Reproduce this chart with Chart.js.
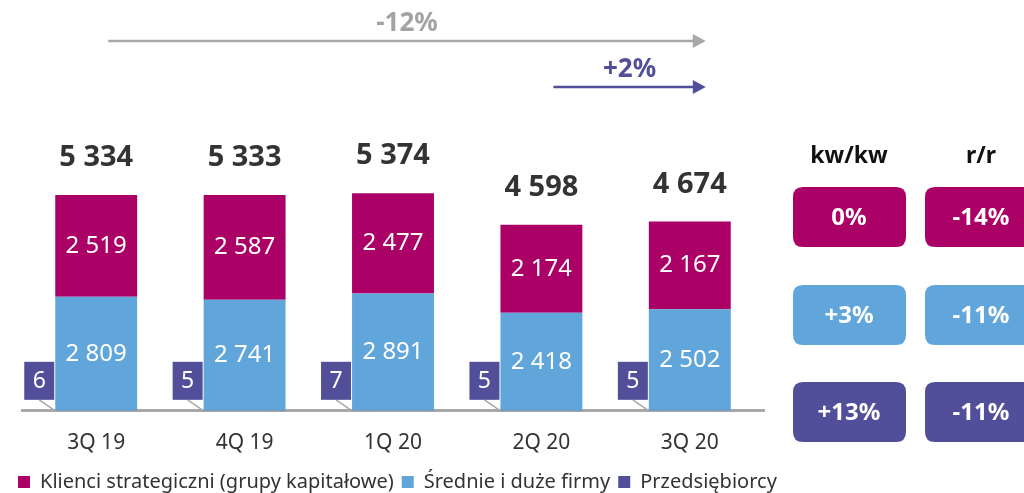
<!DOCTYPE html>
<html>
  <head>
    <meta charset="utf-8" />
    <title>Kredyty klientów korporacyjnych</title>
    <script src="https://cdn.jsdelivr.net/npm/chart.js@4.4.1/dist/chart.umd.min.js"></script>
    <style>
      html, body { margin: 0; padding: 0; background: #fff; }
      #wrap { width: 1024px; height: 493px; }
    </style>
  </head>
  <body>
    <div id="wrap"><canvas id="myChart"></canvas></div>
    <script>
      const categories = ["3Q 19", "4Q 19", "1Q 20", "2Q 20", "3Q 20"];
      const strategic = [2519, 2587, 2477, 2174, 2167];
      const midLarge = [2809, 2741, 2891, 2418, 2502];
      const entrepreneurs = [6, 5, 7, 5, 5];
      const totals = [5334, 5333, 5374, 4598, 4674];

      const changeYear = "-12%";
      const changeQuarter = "+2%";
      const qoqHeader = "kw/kw";
      const yoyHeader = "r/r";
      const qoq = ["0%", "+3%", "+13%"];
      const yoy = ["-14%", "-11%", "-11%"];

      const MAGENTA = "#ab0066";
      const BLUE = "#60a6da";
      const PURPLE = "#524f9a";
      const GREY = "#a8a8a8";
      const FONT = "'Noto Sans', 'Open Sans', sans-serif";

      const fmt = (v) => String(v).replace(/\B(?=(\d{3})+(?!\d))/g, " ");

      function roundRect(ctx, x, y, w, h, r) {
        ctx.beginPath();
        ctx.moveTo(x + r, y);
        ctx.lineTo(x + w - r, y);
        ctx.quadraticCurveTo(x + w, y, x + w, y + r);
        ctx.lineTo(x + w, y + h - r);
        ctx.quadraticCurveTo(x + w, y + h, x + w - r, y + h);
        ctx.lineTo(x + r, y + h);
        ctx.quadraticCurveTo(x, y + h, x, y + h - r);
        ctx.lineTo(x, y + r);
        ctx.quadraticCurveTo(x, y, x + r, y);
        ctx.closePath();
      }

      function arrow(ctx, x1, x2, y, color) {
        ctx.strokeStyle = color;
        ctx.fillStyle = color;
        ctx.lineWidth = 2.5;
        ctx.beginPath();
        ctx.moveTo(x1, y);
        ctx.lineTo(x2 - 12, y);
        ctx.stroke();
        ctx.beginPath();
        ctx.moveTo(x2, y);
        ctx.lineTo(x2 - 13, y - 7);
        ctx.lineTo(x2 - 13, y + 7);
        ctx.closePath();
        ctx.fill();
      }

      // pull the legend a little closer to the bottom edge
      const tightLegend = {
        id: "tightLegend",
        beforeLayout(chart) {
          const lg = chart.legend;
          if (lg && !lg._tight) {
            const fit = lg.fit.bind(lg);
            lg.fit = function () {
              fit();
              this.height -= 3;
            };
            lg._tight = true;
          }
        },
      };

      // segment values, totals, callouts, arrows and the change table
      const annotations = {
        id: "annotations",
        afterDatasetsDraw(chart) {
          const ctx = chart.ctx;
          const metaE = chart.getDatasetMeta(0);
          const metaM = chart.getDatasetMeta(1);
          const metaS = chart.getDatasetMeta(2);
          ctx.save();
          ctx.textAlign = "center";
          ctx.textBaseline = "middle";

          metaM.data.forEach((bar, i) => {
            ctx.fillStyle = "#fff";
            ctx.font = "24px " + FONT;
            ctx.fillText(fmt(midLarge[i]), bar.x, (bar.y + bar.base) / 2);
            const top = metaS.data[i];
            ctx.fillText(fmt(strategic[i]), top.x, (top.y + top.base) / 2);

            ctx.fillStyle = "#333";
            ctx.font = "bold 29px " + FONT;
            ctx.fillText(fmt(totals[i]), top.x, top.y - 37);

            // small segment callout to the left of the bar
            const e = metaE.data[i];
            const left = e.x - e.width / 2;
            const bw = 30, bh = 38;
            const bx = left - 1 - bw;
            const by = e.base - 11 - bh;
            ctx.strokeStyle = GREY;
            ctx.lineWidth = 1.5;
            ctx.beginPath();
            ctx.moveTo(bx + bw / 2, by + bh);
            ctx.lineTo(left, e.base);
            ctx.stroke();
            ctx.fillStyle = PURPLE;
            ctx.fillRect(bx, by, bw, bh);
            ctx.fillStyle = "#fff";
            ctx.font = "23px " + FONT;
            ctx.fillText(fmt(entrepreneurs[i]), bx + bw / 2, by + bh / 2 + 1);
          });

          const xs = chart.scales.x;
          const g1 = xs.getPixelForValue(0) + 12;
          const g2 = xs.getPixelForValue(4) + 16;
          const p1 = xs.getPixelForValue(3) + 12;
          arrow(ctx, g1, g2, 41, GREY);
          arrow(ctx, p1, g2, 87, PURPLE);
          ctx.font = "bold 26px " + FONT;
          ctx.fillStyle = "#a3a3a3";
          ctx.fillText(changeYear, (g1 + g2) / 2, 24);
          ctx.fillStyle = PURPLE;
          ctx.fillText(changeQuarter, (p1 + g2) / 2, 70);

          const cols = [793, 925];
          const rows = [187, 285, 382];
          const fills = [MAGENTA, BLUE, PURPLE];
          ctx.fillStyle = "#111";
          ctx.font = "bold 23px " + FONT;
          ctx.fillText(qoqHeader, cols[0] + 56, 156);
          ctx.fillText(yoyHeader, cols[1] + 56, 156);
          rows.forEach((ry, r) => {
            [qoq[r], yoy[r]].forEach((txt, c) => {
              ctx.fillStyle = fills[r];
              roundRect(ctx, cols[c], ry, 113, 60, 10);
              ctx.fill();
              ctx.fillStyle = "#fff";
              ctx.font = "bold 24px " + FONT;
              ctx.fillText(txt, cols[c] + 56, ry + 31);
            });
          });
          ctx.restore();
        },
      };

      const data = {
        labels: categories,
        datasets: [
          { label: "Przedsiębiorcy", data: entrepreneurs, backgroundColor: PURPLE },
          { label: "Średnie i duże firmy", data: midLarge, backgroundColor: BLUE },
          { label: "Klienci strategiczni (grupy kapitałowe)", data: strategic, backgroundColor: MAGENTA },
        ],
      };

      const hiddenAxis = (width, position) => ({
        position: position,
        min: 0,
        max: 1,
        grid: { display: false },
        border: { display: false },
        ticks: { display: false },
        afterFit(scale) {
          scale.width = width;
        },
      });

      const config = {
        type: "bar",
        data: data,
        options: {
          responsive: true,
          maintainAspectRatio: false,
          animation: false,
          datasets: {
            bar: { barPercentage: 0.552, categoryPercentage: 1, borderWidth: 0 },
          },
          layout: { padding: { left: 10, right: 0, top: 6, bottom: -6 } },
          plugins: {
            tooltip: { enabled: false },
            legend: {
              position: "bottom",
              align: "start",
              reverse: true,
              labels: {
                boxWidth: 12,
                boxHeight: 12,
                padding: 8,
                color: "#333",
                font: { family: FONT, size: 20 },
              },
            },
          },
          scales: {
            x: {
              stacked: true,
              grid: { display: false },
              border: { color: GREY, width: 3 },
              ticks: { color: "#333", font: { family: FONT, size: 21 }, padding: 12 },
              afterFit(scale) {
                scale.height -= 4;
              },
            },
            y: Object.assign(hiddenAxis(12, "left"), { stacked: true, max: 10000 }),
            side: hiddenAxis(260, "right"),
          },
        },
        plugins: [tightLegend, annotations],
      };

      const myChart = new Chart(document.getElementById("myChart"), config);
    </script>
  </body>
</html>
